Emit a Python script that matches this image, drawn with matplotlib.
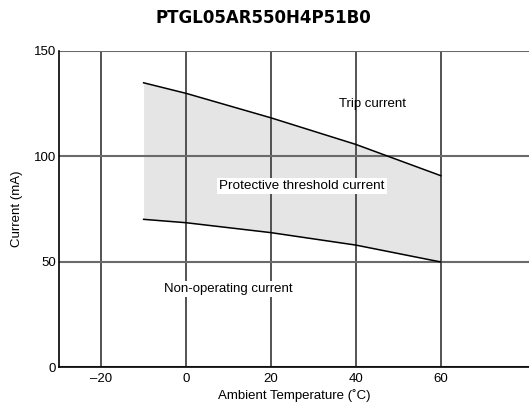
import numpy as np
import matplotlib
matplotlib.use("Agg")
from matplotlib import pyplot as plt

# values
temps = [-10, 0, 20, 40, 60]
trip_current = [134.8, 129.8, 118.2, 105.6, 90.8]
non_operating = [70.1, 68.5, 63.8, 57.9, 49.9]
x_ticks = [-20, 0, 20, 40, 60]
x_tick_labels = ["\u201320", "0", "20", "40", "60"]
y_ticks = [0, 50, 100, 150]
title = "PTGL05AR550H4P51B0"

plt.rcParams['font.family'] = ['Liberation Sans', 'DejaVu Sans']

fig = plt.figure(figsize=(5.29, 4.08), dpi=100)
ax = fig.add_axes([0.111, 0.0998, 0.889, 0.7759])

ax.fill_between(temps, non_operating, trip_current, color="#e5e5e5", lw=0, zorder=1)
ax.plot(temps, trip_current, color="black", lw=1.1, zorder=3)
ax.plot(temps, non_operating, color="black", lw=1.1, zorder=3)

ax.set_xlim(-30, 80.8)
ax.set_ylim(0, 150)
ax.set_xticks(x_ticks)
ax.set_xticklabels(x_tick_labels)
ax.set_yticks(y_ticks)
ax.tick_params(length=0, labelsize=9.5)
ax.tick_params(axis="y", pad=2)
ax.tick_params(axis="x", pad=4)
ax.grid(True, axis="x", color="#454545", lw=1.3, zorder=2)
ax.grid(True, axis="y", color="#6a6a6a", lw=1.5, zorder=2)
ax.set_axisbelow(False)

for side in ["top", "right"]:
    ax.spines[side].set_visible(False)
for side in ["left", "bottom"]:
    ax.spines[side].set_color("black")
    ax.spines[side].set_linewidth(1.2)
    ax.spines[side].set_zorder(4)

ax.set_xlabel("Ambient Temperature (\u02daC)", fontsize=9.5, labelpad=3)
ax.set_ylabel("Current (mA)", fontsize=9.5, labelpad=8)

box = dict(facecolor="white", edgecolor="none", pad=1.5)
ax.text(44, 124.7, "Trip current", fontsize=9.5, ha="center", va="center", zorder=5)
ax.text(27.3, 85.8, "Protective threshold current", fontsize=9.7, ha="center", va="center",
        bbox=box, zorder=5)
ax.text(10, 37, "Non-operating current", fontsize=9.5, ha="center", va="center",
        bbox=box, zorder=5)

fig.text(0.498, 0.956, title, fontsize=12, fontweight="bold",
         family=["DejaVu Sans"], ha="center", va="center")

fig.savefig("out.png", dpi=100)
